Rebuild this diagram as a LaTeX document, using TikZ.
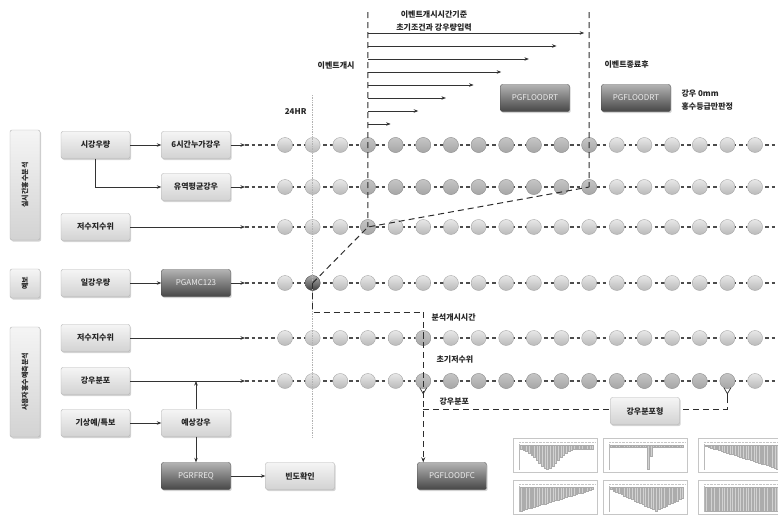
\documentclass[tikz,border=0pt]{standalone}
\usepackage{fontspec}
\setmainfont{Noto Sans CJK KR}
\usepackage{tikz}
\usetikzlibrary{arrows.meta,positioning,calc,shadows}
% small hyetograph thumbnail: name, x, y, bar depth as function of \k
\newcommand{\hyeto}[4]{%
  \node[chart] (#1) at (#2,#3) {};
  \draw[gray!45, densely dotted] ([shift={(6,4)}]#1.north west) -- ([shift={(-2,4)}]#1.north east);
  \draw[gray!55] ([shift={(6,6)}]#1.north west) -- ([shift={(6,-2)}]#1.south west);
  \foreach \k in {0,...,27}{
    \pgfmathsetmacro{\dep}{#4}
    \filldraw[bar] ([shift={(7+\k*2.65,7)}]#1.north west) rectangle ([shift={(8.9+\k*2.65,7+25*\dep)}]#1.north west);
  }
}

\begin{document}
\begin{tikzpicture}[
    x=1pt, y=-1pt,
    font=\fontsize{8}{10}\selectfont,
    box/.style={rectangle, draw=gray!60, rounded corners=2pt, minimum width=69pt, minimum height=27pt, top color=gray!8, bottom color=gray!35, text=black!85, font=\fontsize{8}{10}\selectfont\bfseries, drop shadow={shadow xshift=1.2pt, shadow yshift=-1.5pt, opacity=0.35}},
    prog/.style={box, draw=black!70, top color=gray!60, bottom color=black!72, text=white!92!black, font=\fontsize{8}{10}\selectfont},
    sidebox/.style={box, minimum width=30pt},
    sidetext/.style={rotate=90, font=\fontsize{7}{8}\selectfont\bfseries, text=black!85},
    dot/.style={circle, draw=gray!70, inner sep=0pt, minimum size=15pt, top color=gray!18, bottom color=gray!55},
    dotmid/.style={dot, draw=gray!80, top color=gray!45, bottom color=gray!70},
    dotdark/.style={dot, draw=black!65, top color=gray!65, bottom color=black!75},
    arrow/.style={-{Stealth[length=4.5pt,width=3.5pt]}, gray!40!black, line width=0.6pt},
    rowline/.style={gray!60!black, line width=1.1pt, dash pattern=on 3.5pt off 3pt},
    event/.style={gray!35!black, line width=1pt, dash pattern=on 6pt off 4pt},
    eventarrow/.style={event, -{Stealth[length=5pt,width=4pt]}},
    hour/.style={gray!60, line width=0.7pt, densely dotted},
    pin/.style={gray!35!black, line width=0.7pt},
    note/.style={font=\fontsize{8}{13}\selectfont\bfseries, text=black!85},
    chart/.style={draw=gray!45, line width=0.4pt, minimum width=84pt, minimum height=34pt, anchor=north west, inner sep=0pt, fill=white},
    bar/.style={fill=gray!35, draw=gray!65, line width=0.2pt}
]
    \useasboundingbox (0,0) rectangle (778,514);

    % group boxes
    \node[sidebox, minimum height=110pt] (realtime) at (25,185) {};
    \node[sidetext] (realtime-t) at (realtime) {실시간홍수분석};
    \node[sidebox, minimum height=29pt] (fcbox) at (25,283.5) {};
    \node[sidetext] (fcbox-t) at (fcbox) {예보};
    \node[sidebox, minimum height=110pt] (user) at (25,382) {};
    \node[sidetext] (user-t) at (user) {사용자홍수예측분석};

    % inputs
    \node[box] (rain) at (95.5,145) {시강우량};
    \node[box] (cum6) at (196,145) {6시간누가강우};
    \node[box] (basin) at (196,187) {유역평균강우};
    \node[box] (res1) at (95.5,227) {저수지수위};
    \node[box] (daily) at (95.5,283) {일강우량};
    \node[prog] (amc) at (196,283) {PGAMC123};
    \node[box] (res2) at (95.5,338) {저수지수위};
    \node[box] (dist) at (95.5,381) {강우분포};
    \node[box] (warn) at (95.5,423) {기상예/특보};
    \node[box] (fcrain) at (196,423) {예상강우};
    \node[prog] (freq) at (196,476) {PGRFREQ};
    \node[box] (check) at (300,476) {빈도확인};

    \draw[arrow] (rain) -- (cum6);
    \draw[arrow] (rain.south) |- (basin.west);
    \draw[arrow] (daily) -- (amc);
    \draw[arrow] (warn) -- (fcrain);
    \draw[arrow] (fcrain.north) -- (fcrain.north |- dist.east);
    \draw[arrow] (fcrain) -- (freq);
    \draw[arrow] (freq) -- (check);

    % time rows
    \foreach \r/\y/\src in {1/145/cum6, 2/187/basin, 3/227/res1, 4/283/amc, 5/338/res2, 6/381/dist}{
      \coordinate (s\r) at (245,\y);
      \coordinate (e\r) at (778,\y);
      \draw[arrow] (\src) -- (s\r);
      \draw[rowline] (s\r) -- (e\r);
      \foreach \i in {0,...,17}{
        \node[dot] (c\r-\i) at (285+27.65*\i,\y) {};
      }
    }
    \foreach \i in {3,...,11}{
      \node[dotmid] (m1-\i) at (c1-\i) {};
      \node[dotmid] (m2-\i) at (c2-\i) {};
    }
    \node[dotmid] (m3-3) at (c3-3) {};
    \node[dotdark] (m4-1) at (c4-1) {};
    \node[dotmid] (m5-5) at (c5-5) {};
    \foreach \i in {5,...,16}{
      \node[dotmid] (m6-\i) at (c6-\i) {};
    }

    % 24 hour mark
    \coordinate (h24top) at (312.65,95);
    \coordinate (h24bot) at (312.65,438);
    \draw[hour] (h24top) -- (h24bot);
    \node[note, anchor=east] (h24) at (310,112) {24HR};

    % event window
    \coordinate (evs) at (367.95,12);
    \coordinate (eve) at (589.15,12);
    \draw[event] (evs) -- (c3-3.center);
    \draw[event] (eve) -- (c2-11.center);
    \draw[event] (c4-1.center) -- (c3-3.center) -- (c2-11.center);
    \foreach \i in {0,...,7}{
      \pgfmathsetmacro{\ya}{33+13*\i}
      \pgfmathsetmacro{\xb}{285+27.65*(11-\i)-5}
      \coordinate (ea\i) at (367.95,\ya);
      \coordinate (eb\i) at (\xb,\ya);
      \draw[arrow] (ea\i) -- (eb\i);
    }
    \node[note, align=center] (evhead) at (434,21) {이벤트개시시간기준\\초기조건과 강우량입력};
    \node[note, anchor=east] (evstart) at (358,66) {이벤트개시};
    \node[note, anchor=west] (evend) at (601,65) {이벤트종료후};
    \node[prog] (rt1) at (535,98) {PGFLOODRT};
    \node[prog] (rt2) at (636,98) {PGFLOODRT};
    \node[note, anchor=west, align=left] (zero) at (678,100) {강우 0mm\\홍수등급만판정};

    % forecast run
    \node[prog] (fc) at (452,476) {PGFLOODFC};
    \coordinate (bend) at (0,312);
    \draw[event] (c4-1.center) -- (c4-1.center |- bend) -| (c5-5.center) -- (c6-5.center);
    \draw[eventarrow] (c6-5.center) -- (c6-5.center |- fc.north);
    \foreach \p in {c6-5, c6-16}{
      \draw[pin] ([xshift=-3.5pt,yshift=1pt]\p.south) -- ([yshift=-5pt]\p.south) -- ([xshift=3.5pt,yshift=1pt]\p.south);
      \draw[pin] ([yshift=-5pt]\p.south) -- ([yshift=-9pt]\p.south);
    }
    \coordinate (dline) at (0,409);
    \draw[event] (c6-5.center |- dline) -| ([yshift=-9pt]c6-16.south);
    \node[note, anchor=west] (anstart) at (428,318) {분석개시시간};
    \node[note, anchor=west] (initlev) at (433,360) {초기저수위};
    \node[note, anchor=west] (distlab) at (436,402) {강우분포};
    \node[box] (shape) at (645,411) {강우분포형};

    % rainfall distribution shapes
    \hyeto{g1}{513}{438}{0.15+0.8*exp(-((\k-10)*(\k-10))/30)}
    \hyeto{g2}{603}{438}{ifthenelse(\k==14,0.95,ifthenelse(\k==15,0.45,0.07))}
    \hyeto{g3}{698}{438}{0.05+0.9*\k/27}
    \hyeto{g4}{513}{480}{0.95-0.85*\k/27}
    \hyeto{g5}{603}{480}{0.95-abs(\k-17)*0.05}
    \hyeto{g6}{698}{480}{0.95}
\end{tikzpicture}
\end{document}
